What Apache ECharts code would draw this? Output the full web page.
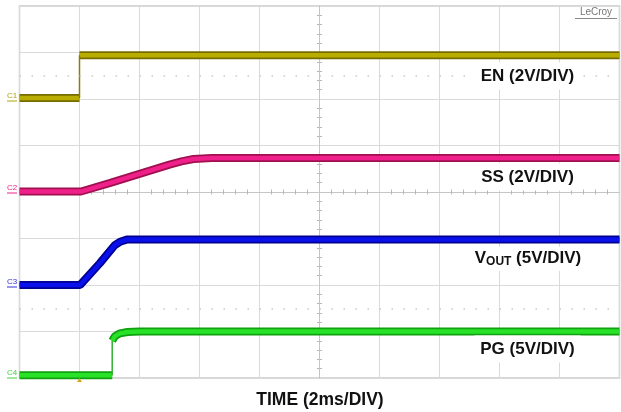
<!DOCTYPE html>
<html>
<head>
<meta charset="utf-8">
<script src="https://cdn.jsdelivr.net/npm/echarts@6/dist/echarts.min.js"></script>
<style>
html, body { margin: 0; padding: 0; background: #fff; }
#main { width: 621px; height: 412px; }
</style>
</head>
<body>
<div id="main"></div>
<script>
// time in ms (2ms/div, 10 div), level in divisions from screen bottom (8 div)
var enLow = [[0, 6.02], [2.0, 6.02]];
var enHigh = [[2.0, 6.94], [20, 6.94]];
var enEdge = [[2.0, 6.02], [2.0, 6.94]];
var ssTrace = [[0, 4.01], [2.05, 4.01], [3, 4.19], [4, 4.39], [5, 4.59], [5.4, 4.66], [5.8, 4.71], [6.4, 4.73], [20, 4.73]];
var voutTrace = [[0, 2.0], [2.02, 2.0], [2.68, 2.47], [3.18, 2.86], [3.35, 2.93], [3.6, 2.98], [20, 2.98]];
var pgLow = [[0, 0.06], [3.09, 0.06]];
var pgHigh = [[3.09, 0.80], [3.18, 0.9], [3.35, 0.96], [3.6, 0.99], [4, 1.0], [20, 1.0]];
var pgEdge = [[3.09, 0.06], [3.09, 0.80]];
var markerRows = [6.5, 1.5];

var chart = echarts.init(document.getElementById('main'), null, { renderer: 'canvas' });

// thick noisy band = dark wide line under a bright narrower one
function band (data, core, edge) {
    return [{
        type: 'line', data: data, symbol: 'none', silent: true, z: 3,
        lineStyle: { color: edge, width: 8 }
    }, {
        type: 'line', data: data, symbol: 'none', silent: true, z: 4,
        lineStyle: { color: core, width: 4.5 }
    }]
}
function edgeLine (data, color) {
    return {
        type: 'line', data: data, symbol: 'none', silent: true, z: 4,
        lineStyle: { color: color, width: 1.5 }
    }
}

var series = [].concat(
    band(enLow, '#b9ad00', '#776c00'),
    band(enHigh, '#b9ad00', '#776c00'),
    [edgeLine(enEdge, '#8a8000')],
    band(ssTrace, '#f0208a', '#a0104f'),
    band(voutTrace, '#0a10ec', '#000090'),
    band(pgLow, '#28e228', '#10a010'),
    band(pgHigh, '#28e228', '#10a010'),
    [edgeLine(pgEdge, '#30b030')]
);
series.push({
    type: 'line', data: [], silent: true,
    markLine: {
        silent: true, symbol: ['none', 'none'], label: { show: false },
        lineStyle: { color: '#cacaca', width: 1.5, type: [1.5, 10.5] },
        data: markerRows.map(function (v) { return { yAxis: v } })
    }
});

var hidden = { show: false };
function centerX (inside) {
    return {
        type: 'value', min: 0, max: 20, interval: 2, position: 'bottom', offset: -186,
        axisLine: { show: true, lineStyle: { color: '#c6c6c6' } },
        axisTick: { show: false, inside: inside },
        minorTick: { show: true, splitNumber: 5, length: 2.5, lineStyle: { color: '#b8b8b8' } },
        axisLabel: hidden, splitLine: hidden
    }
}
function centerY (inside) {
    return {
        type: 'value', min: 0, max: 8, interval: 1, position: 'left', offset: -300,
        axisLine: { show: true, lineStyle: { color: '#c6c6c6' } },
        axisTick: { show: false, inside: inside },
        minorTick: { show: true, splitNumber: 5, length: 2.5, lineStyle: { color: '#b8b8b8' } },
        axisLabel: hidden, splitLine: hidden
    }
}

var labelFont = 'bold 17px "Liberation Sans", Arial, sans-serif';
function tag (x, y, txt) {
    return {
        type: 'text', x: x, y: y, z: 100,
        style: {
            text: txt, font: labelFont, fill: '#111', align: 'center', verticalAlign: 'middle',
            backgroundColor: '#fff', padding: [5, 6]
        }
    }
}
function chTag (y, txt, color) {
    return {
        type: 'group', z: 100,
        children: [{
            type: 'text', x: 12, y: y,
            style: { text: txt, font: '8px "Liberation Sans", sans-serif', fill: color, align: 'center', verticalAlign: 'middle' }
        }, {
            type: 'line', shape: { x1: 7, y1: y + 5, x2: 17, y2: y + 5 },
            style: { stroke: color, lineWidth: 1 }
        }]
    }
}

var option = {
    animation: false,
    backgroundColor: '#fff',
    grid: { left: 19.5, top: 6, width: 600, height: 372, show: true, borderColor: '#c9c9c9', borderWidth: 1.5, containLabel: false },
    xAxis: [{
        type: 'value', min: 0, max: 20, interval: 2,
        axisLine: hidden, axisTick: hidden, axisLabel: hidden,
        splitLine: { show: true, lineStyle: { color: '#dadada', width: 1 } }
    }, centerX(false), centerX(true)],
    yAxis: [{
        type: 'value', min: 0, max: 8, interval: 1,
        axisLine: hidden, axisTick: hidden, axisLabel: hidden,
        splitLine: { show: true, lineStyle: { color: '#dadada', width: 1 } }
    }, centerY(false), centerY(true)],
    series: series,
    graphic: [
        tag(527.5, 76, 'EN (2V/DIV)'),
        tag(527.5, 177, 'SS (2V/DIV)'),
        {
            type: 'text', x: 528, y: 259, z: 100,
            style: {
                text: '{b|V}{s|OUT}{b| (5V/DIV)}', align: 'center', verticalAlign: 'middle',
                backgroundColor: '#fff', padding: [1, 6, 3, 6],
                rich: {
                    b: { font: labelFont, fill: '#111', lineHeight: 20, verticalAlign: 'middle' },
                    s: { font: 'bold 12px "Liberation Sans", Arial, sans-serif', fill: '#111', lineHeight: 20, verticalAlign: 'middle', padding: [8, 0, 0, 0] }
                }
            }
        },
        tag(527.5, 349, 'PG (5V/DIV)'),
        {
            type: 'text', x: 320, y: 400, z: 100,
            style: { text: 'TIME (2ms/DIV)', font: 'bold 17.5px "Liberation Sans", Arial, sans-serif', fill: '#111', align: 'center', verticalAlign: 'middle' }
        },
        {
            type: 'text', x: 596, y: 12.5, z: 100,
            style: { text: 'LeCroy', font: '10px "Liberation Sans", Arial, sans-serif', fill: '#777', align: 'center', verticalAlign: 'middle' }
        },
        { type: 'line', z: 100, shape: { x1: 575, y1: 18.5, x2: 617, y2: 18.5 }, style: { stroke: '#888', lineWidth: 1 } },
        chTag(96, 'C1', '#b0a400'),
        chTag(188, 'C2', '#f0208a'),
        chTag(282, 'C3', '#3030e0'),
        chTag(373, 'C4', '#40d040'),
        { type: 'polygon', z: 100, shape: { points: [[79.5, 378], [77, 382], [82, 382]] }, style: { fill: '#e0a020' } }
    ]
};
chart.setOption(option);
</script>
</body>
</html>
